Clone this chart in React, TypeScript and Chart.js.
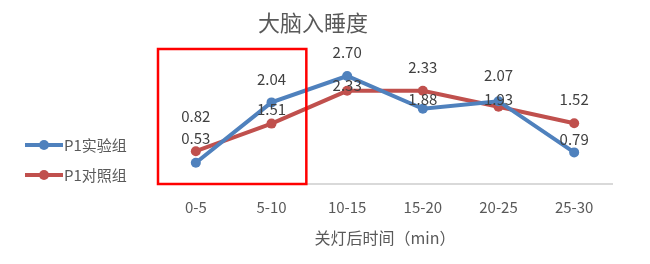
import React, { useEffect, useRef } from "react";
import { Chart, registerables } from "chart.js";

Chart.register(...registerables);

// Time bins after lights-off (minutes)
const categories = ["0-5", "5-10", "10-15", "15-20", "20-25", "25-30"];
// Sleep-onset scores per bin
const experimentValues = [0.53, 2.04, 2.7, 1.88, 2.07, 0.79];
const controlValues = [0.82, 1.51, 2.33, 2.33, 1.93, 1.52];
const seriesNames = ["P1实验组", "P1对照组"];
const chartTitle = "大脑入睡度";
const xAxisTitle = "关灯后时间（min）";

const FONT = "'Microsoft YaHei', 'Noto Sans CJK SC', 'Noto Sans', sans-serif";
const BLUE = "#4f81bd";
const RED = "#c0504d";
const TEXT = "#595959";
const LABEL = "#404040";

// Vertical placement of each value label relative to its point (px, negative = above)
const experimentLabelShift = [-25, -23, -24, -10, -26, -13];
const controlLabelShift = [-35, -14, -6, -24, -8, -24];

const overlayPlugin = {
  id: "overlay",
  afterDatasetsDraw(chart: any) {
    const { ctx, chartArea, scales } = chart;
    const x = scales.x;
    const step = x.getPixelForValue(1) - x.getPixelForValue(0);

    // highlight frame around the first two bins
    ctx.save();
    ctx.strokeStyle = "#ff0000";
    ctx.lineWidth = 2.5;
    const left = x.getPixelForValue(0) - step / 2;
    const right = x.getPixelForValue(1) + step / 2 - 3;
    ctx.strokeRect(left, chartArea.top - 15, right - left, chartArea.bottom - (chartArea.top - 15));
    ctx.restore();

    // value labels
    ctx.save();
    ctx.font = `15px ${FONT}`;
    ctx.fillStyle = LABEL;
    ctx.textAlign = "center";
    ctx.textBaseline = "middle";
    const shifts = [experimentLabelShift, controlLabelShift];
    chart.data.datasets.forEach((ds: any, di: number) => {
      const meta = chart.getDatasetMeta(di);
      meta.data.forEach((pt: any, i: number) => {
        ctx.fillText(Number(ds.data[i]).toFixed(2), pt.x, pt.y + shifts[di][i]);
      });
    });
    ctx.restore();

    // title
    ctx.save();
    ctx.font = `22px ${FONT}`;
    ctx.fillStyle = TEXT;
    ctx.textAlign = "center";
    ctx.textBaseline = "middle";
    ctx.fillText(chartTitle, 313, 23);
    ctx.restore();

    // legend on the left
    ctx.save();
    const colors = [BLUE, RED];
    seriesNames.forEach((name, i) => {
      const y = 145 + i * 30;
      ctx.strokeStyle = colors[i];
      ctx.lineWidth = 4;
      ctx.beginPath();
      ctx.moveTo(25, y);
      ctx.lineTo(63, y);
      ctx.stroke();
      ctx.fillStyle = colors[i];
      ctx.beginPath();
      ctx.arc(44, y, 5, 0, Math.PI * 2);
      ctx.fill();
      ctx.font = `15px ${FONT}`;
      ctx.fillStyle = TEXT;
      ctx.textAlign = "left";
      ctx.textBaseline = "middle";
      ctx.fillText(name, 64, y);
    });
    ctx.restore();
  },
};

export default function App() {
  const canvasRef = useRef<HTMLCanvasElement | null>(null);

  useEffect(() => {
    if (!canvasRef.current) return;
    const chart = new Chart(canvasRef.current, {
      type: "line",
      data: {
        labels: categories,
        datasets: [
          {
            label: seriesNames[0],
            data: experimentValues,
            borderColor: BLUE,
            backgroundColor: BLUE,
            borderWidth: 4,
            pointRadius: 5,
            pointBorderWidth: 0,
            tension: 0,
          },
          {
            label: seriesNames[1],
            data: controlValues,
            borderColor: RED,
            backgroundColor: RED,
            borderWidth: 4,
            pointRadius: 5,
            pointBorderWidth: 0,
            tension: 0,
          },
        ],
      },
      options: {
        responsive: false,
        animation: false,
        layout: { padding: { left: 158, right: 38, top: 64, bottom: 0 } },
        plugins: {
          legend: { display: false },
          title: { display: false },
          tooltip: { enabled: false },
        },
        scales: {
          x: {
            offset: true,
            grid: { display: false, drawTicks: false },
            border: { display: true, color: "#d9d9d9", width: 2 },
            ticks: {
              color: TEXT,
              font: { family: FONT, size: 15 },
              padding: 14,
            },
            title: {
              display: true,
              text: xAxisTitle,
              color: TEXT,
              font: { family: FONT, size: 16 },
              padding: { top: 0, bottom: 16 },
            },
            afterFit: (scale: any) => {
              scale.height = 80;
            },
          },
          y: {
            display: false,
            min: 0,
            max: 3,
          },
        },
      },
      plugins: [overlayPlugin],
    });
    return () => chart.destroy();
  }, []);

  return (
    <div style={{ position: "absolute", left: 0, top: 0, width: 650, height: 264, background: "#fff" }}>
      <canvas ref={canvasRef} width={650} height={264} />
    </div>
  );
}
